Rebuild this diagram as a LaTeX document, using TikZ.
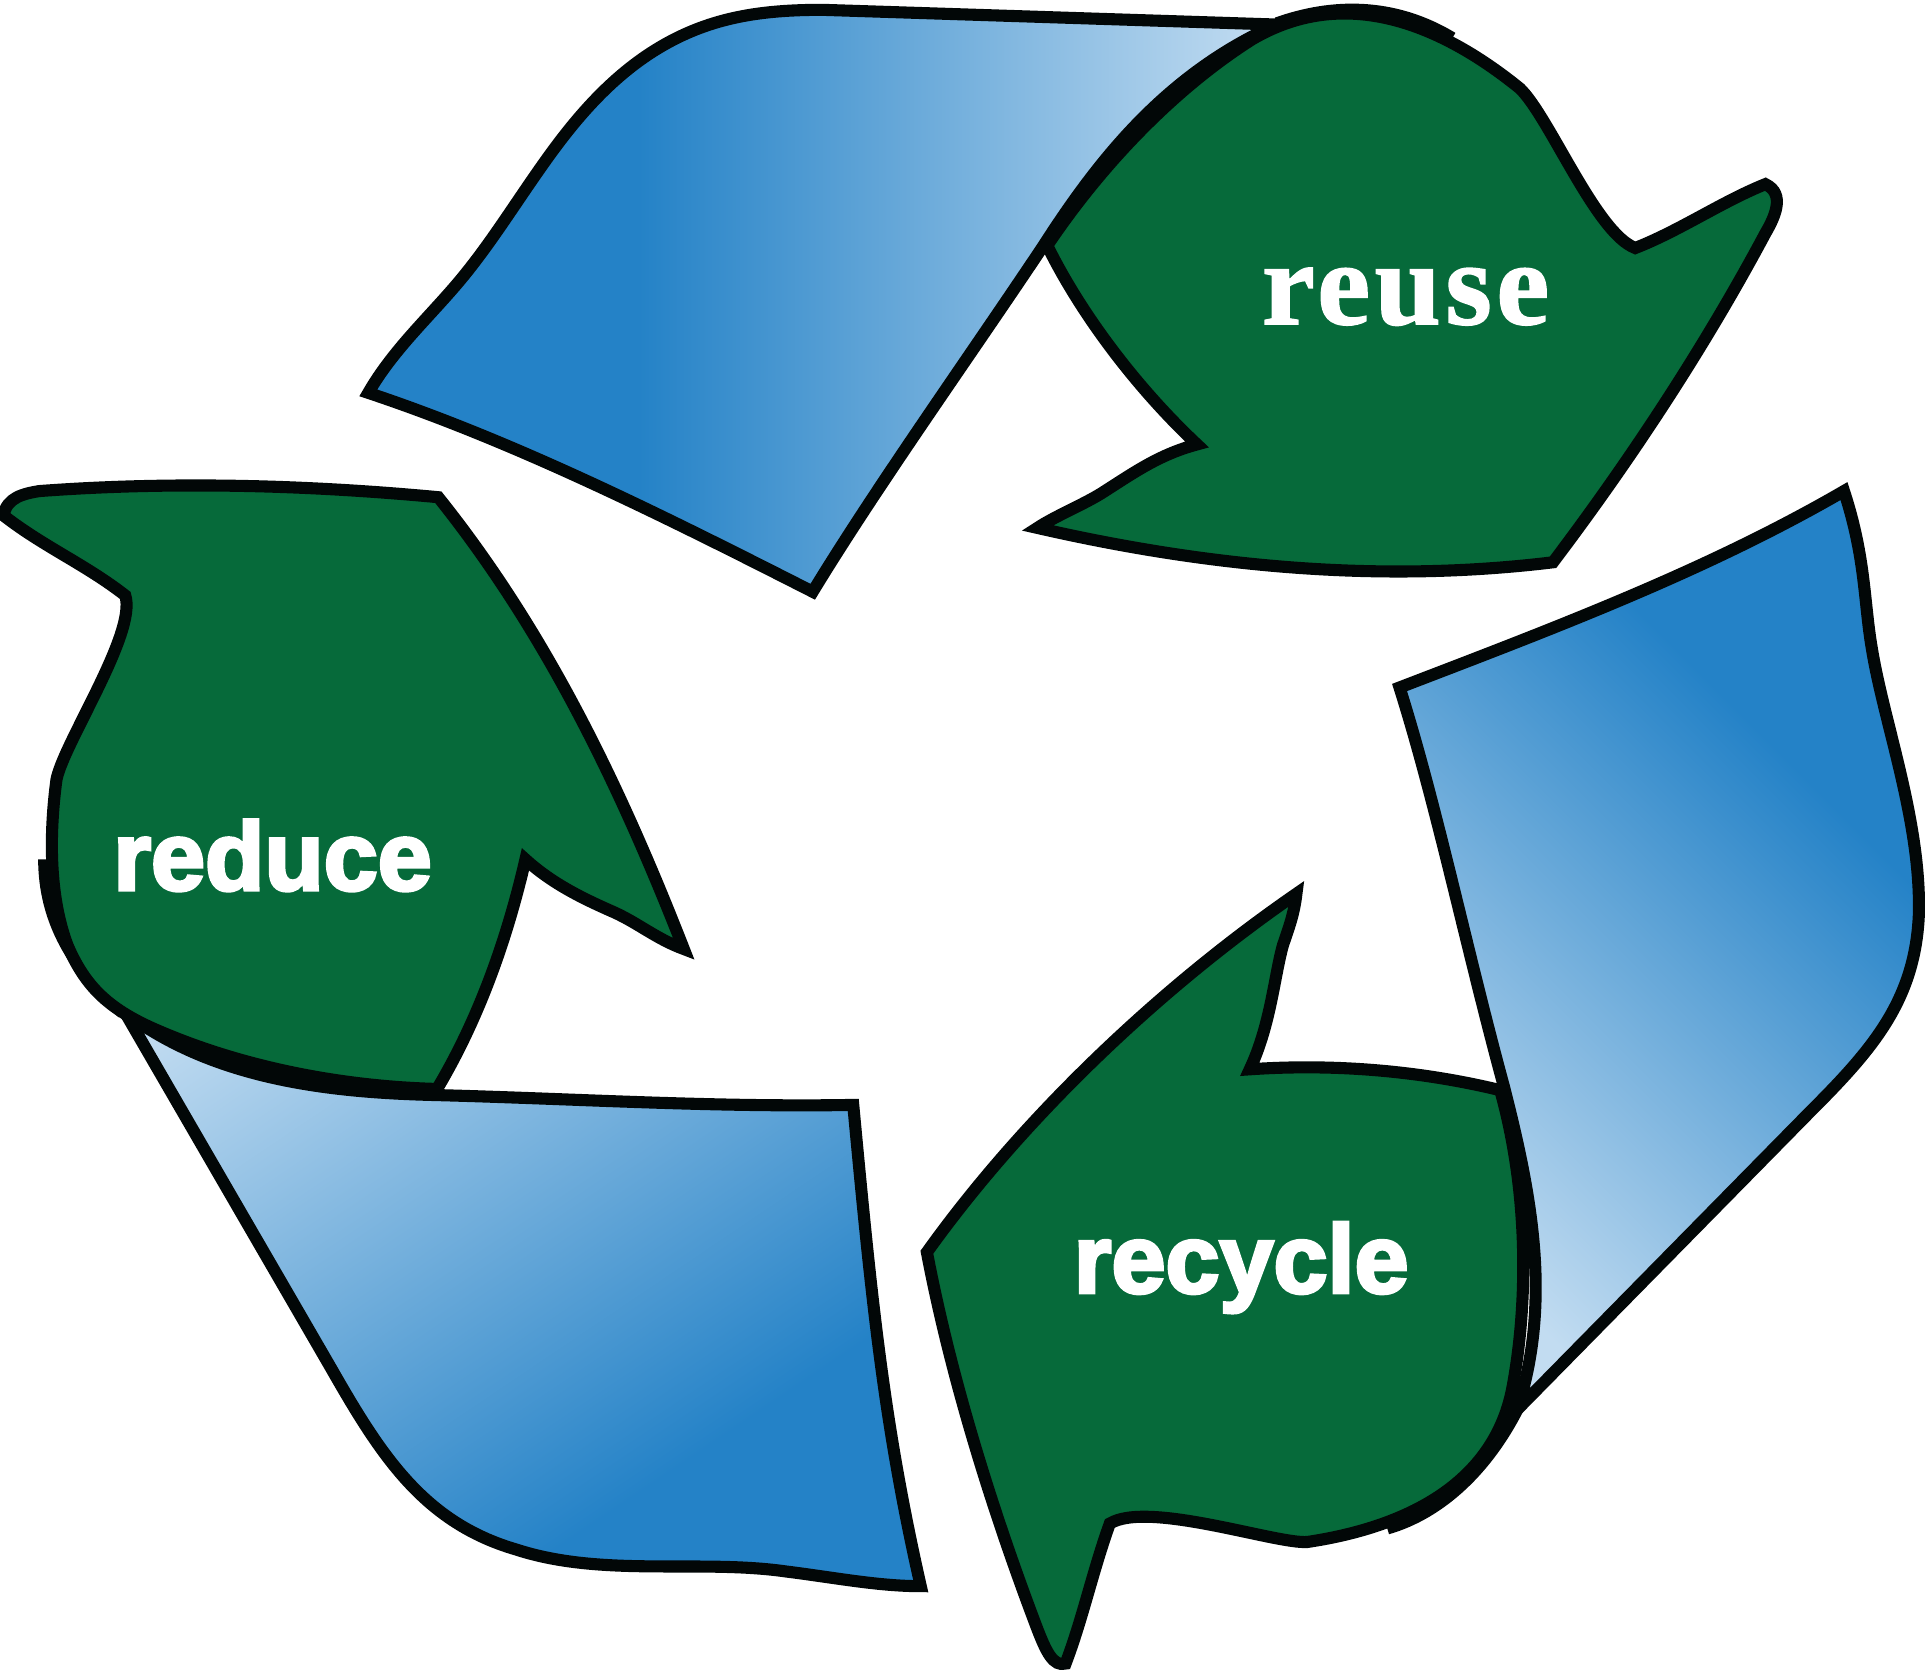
\documentclass[tikz,border=0pt]{standalone}
\usepackage{fontspec}
\newfontfamily\sansblack{Liberation Sans}[UprightFont=* Bold,FakeBold=3.4]
\newfontfamily\serifblack{Liberation Serif}[UprightFont=* Bold,FakeBold=1.4,LetterSpace=4]
\definecolor{arrowgreen}{RGB}{6, 106, 58}
\definecolor{banddark}{RGB}{36, 130, 199}
\definecolor{bandlight}{RGB}{194, 220, 241}
\definecolor{inkblack}{RGB}{2, 7, 7}
\pgfdeclareverticalshading{bandfade}{100bp}{color(0bp)=(banddark); color(37.5bp)=(banddark); color(62.5bp)=(bandlight); color(100bp)=(bandlight)}
\tikzset{
  outline/.style={draw=inkblack, line width=2.8pt, miter limit=5},
  arrowhead/.style={outline, fill=arrowgreen},
  wordsans/.style={text=white, anchor=base, inner sep=0pt, font=\sansblack\fontsize{22.5}{24}\selectfont},
  wordserif/.style={text=white, anchor=base, inner sep=0pt, font=\serifblack\fontsize{27.5}{30}\selectfont},
}
% outlines, in units of the grid set on the picture
\newcommand{\bandtop}{(300,320) .. controls (320,285) and (350,258) .. (375,228) .. controls (400,198) and (420,165) .. (445,130) .. controls (470,95) and (500,60) .. (540,37) .. controls (580,14) and (620,8) .. (670,8) -- (1040,20) .. controls (950,60) and (895,130) .. (850,200) .. controls (790,290) and (715,395) .. (662,482) .. controls (540,420) and (420,360) .. (300,320) -- cycle}
\newcommand{\bandright}{(1140,560) .. controls (1265,512) and (1390,465) .. (1502,400) .. controls (1520,455) and (1518,490) .. (1525,530) .. controls (1535,590) and (1565,670) .. (1563,745) .. controls (1560,815) and (1525,855) .. (1475,905) -- (1236,1148) .. controls (1264,1060) and (1248,975) .. (1225,885) .. controls (1195,775) and (1170,655) .. (1140,560) -- cycle}
\newcommand{\bandbottom}{(102,825) -- (270,1115) .. controls (310,1185) and (345,1240) .. (420,1262) .. controls (490,1285) and (570,1270) .. (640,1280) .. controls (680,1285) and (715,1292) .. (750,1292) .. controls (720,1160) and (710,1060) .. (695,900) .. controls (580,902) and (470,895) .. (356,892) .. controls (270,890) and (175,880) .. (102,825) -- cycle}
\begin{document}
\begin{tikzpicture}[x=0.01cm, y=-0.01cm]
\useasboundingbox (0,0) rectangle (1568,1360);
% blue bands
\begin{scope}
\clip \bandtop;
\shade[shading=bandfade, shading angle=-90] (265,-270) rectangle (1285,750);
\end{scope}
\draw[outline] \bandtop;
\begin{scope}
\clip \bandright;
\shade[shading=bandfade, shading angle=135] (852,347) rectangle (1798,1293);
\end{scope}
\draw[outline] \bandright;
\begin{scope}
\clip \bandbottom;
\shade[shading=bandfade, shading angle=34] (-150,440) rectangle (930,1520);
\end{scope}
\draw[outline] \bandbottom;
% doubled edges under the arrows
\draw[outline] (1040,19) .. controls (1085,3) and (1135,2) .. (1183,31);
\draw[outline] (36,700) .. controls (36,750) and (60,790) .. (100,825);
\draw[outline] (1130,1245) .. controls (1175,1232) and (1212,1195) .. (1236,1148);
% green arrows
\draw[arrowhead] (853,200) .. controls (900,130) and (960,70) .. (1020,32) .. controls (1100,-15) and (1180,25) .. (1238,72) .. controls (1262,95) and (1300,190) .. (1332,202) .. controls (1368,188) and (1403,164) .. (1438,150) .. controls (1455,158) and (1445,178) .. (1438,190) .. controls (1390,280) and (1330,372) .. (1265,458) .. controls (1125,475) and (985,462) .. (845,430) .. controls (860,420) and (885,410) .. (900,400) .. controls (925,384) and (945,370) .. (975,362) .. controls (925,315) and (880,255) .. (853,200) -- cycle;
\draw[arrowhead] (1056,728) .. controls (940,808) and (830,915) .. (755,1020) .. controls (775,1125) and (810,1235) .. (845,1327) .. controls (852,1345) and (858,1358) .. (868,1355) .. controls (882,1318) and (890,1280) .. (904,1241) .. controls (935,1222) and (1040,1258) .. (1065,1256) .. controls (1125,1247) and (1215,1220) .. (1232,1130) .. controls (1245,1060) and (1245,970) .. (1222,888) .. controls (1160,873) and (1090,866) .. (1018,871) .. controls (1035,835) and (1038,795) .. (1045,770) .. controls (1050,755) and (1054,745) .. (1056,728) -- cycle;
\draw[arrowhead] (3,420) .. controls (5,405) and (20,402) .. (32,400) .. controls (140,392) and (250,395) .. (357,405) .. controls (445,515) and (505,640) .. (557,773) .. controls (535,765) and (520,752) .. (500,743) .. controls (475,732) and (450,720) .. (428,700) .. controls (413,765) and (390,830) .. (356,887) .. controls (280,885) and (200,870) .. (130,840) .. controls (90,823) and (70,805) .. (55,770) .. controls (40,730) and (40,680) .. (46,635) .. controls (52,605) and (112,515) .. (102,485) .. controls (70,460) and (35,445) .. (3,420) -- cycle;
% labels
\node[wordserif] (reuse) at (1145,264) {reuse};
\node[wordsans] (recycle) at (1011,1053) {recycle};
\node[wordsans] (reduce) at (222,725) {reduce};
\end{tikzpicture}
\end{document}
